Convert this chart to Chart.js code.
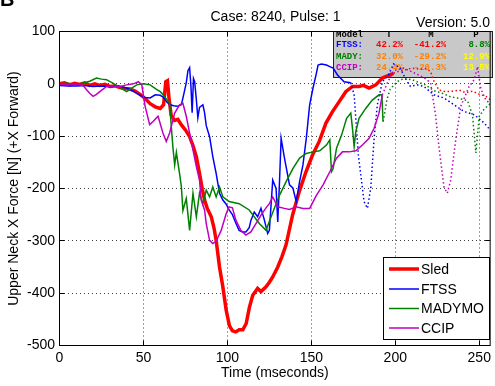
<!DOCTYPE html>
<html>
<head>
<meta charset="utf-8">
<script src="https://cdn.jsdelivr.net/npm/chart.js@4"></script>
<style>
html, body { margin: 0; padding: 0; background: #fff; }
</style>
</head>
<body>
<canvas id="chart" width="495" height="386"></canvas>
<script>
// series values (time in ms, force in N)
const sledTime = [0,3,6,9,12,15,18,21,24,27,30,33,36,39,42,45,48,51,54,57,60,62,63.3,64.3,65.3,66.5,68.5,70.5,72.5,75,77.5,79.5,81.5,83.4,85,86.4,88,90.4,92,93.3,95.3,97.3,99.3,101.2,103,105,107,109.2,111.2,113.1,115.1,118,120,123,125,127,130,132.5,134.9,138.8,142.8,146.8,150.7,154.7,158.7,162.6,166.6,170.5,174.5,178.4,181,184.4,188.4,192.3,196,199,202,206,210,214,218,221,223,226,230,234,238,242,246,250,254,256.5];
const sledForce = [0,2,-2,1,-1,2,-3,0,-3,-1,-5,-4,-7,-9,-10,-14,-20,-28,-38,-44,-47,-40,4,6,-30,-60,-70,-68,-78,-88,-101,-118,-139,-171,-200,-222,-238,-254,-275,-299,-350,-388,-433,-462,-472,-474,-470,-470,-458,-427,-404,-391,-397,-388,-379,-369,-350,-330,-308,-251,-206,-168,-136,-110,-75,-53,-34,-15,-5,-5,-3,-8,-2,11,16,20,24,27,30,28,29,24,5,-12,-15,-14,-12,-17,-14,-20,-24,-30];

const ftssTime = [0,5,10,15,20,25,30,35,40,44,48,51,54,57,60,62,64,66,68,70,72.6,74,75.5,76.5,77.5,78.3,79,79.8,80.5,81.5,82.4,83.4,85.4,86.4,87.4,89.4,91.3,93.3,95.3,97.3,99.3,101,103,105,107,109,111,113,114,116,118,120,122,124,125,127,129,130,131,132,134,137,139,141,143,145,147,149,151,153,154,156,159,161,163,165.6,169.5,173.5,175.5,178,181.4,183.4,185.4,187.4,189.3,192.3,196,199,203,206,209,213,217,223,229,235,241,247,253,256.5];
const ftssForce = [-3,-4,-4,-3,-5,-4,-5,-4,-8,-14,-22,-26,-27,-21,-22,-26,-35,-40,-42,-43,-40,-20,2,25,31,-5,-55,10,4,-30,-65,-45,-40,-55,-80,-101,-139,-171,-209,-222,-230,-241,-250,-266,-280,-283,-283,-275,-261,-245,-254,-238,-260,-286,-280,-184,-200,-264,-190,-104,-142,-193,-199,-225,-187,-155,-104,-40,-8,20,36,38,36,33,30,17,4,2,-21,-136,-225,-238,-199,-104,-40,4,17,38,30,10,-5,-2,-5,-21,-27,-40,-53,-59,-75,-88];

const madyTime = [0,5,10,15,18,22,25,28,32,35,38,40,43,46,50,54,58,60,62,64,65.6,66.6,67.6,68.6,69.6,70.5,71.5,72.6,73.5,75.5,77.5,79.5,81.5,83.4,85.4,87.4,89.4,91.3,93.3,95.3,97.3,101,107,113,119,123,127,131,135,139,143,147,151,155,159,161,162,163,165,168,171,173.5,174.5,175.5,176.5,178.4,182.4,186.3,190.3,192,192.7,193.5,195,197,201,205,210,213,218,223,228,233,238,243,246,248,250,253,256.5];
const madyForce = [0,1,-1,2,5,11,9,8,1,-5,-11,-15,-8,-2,0,-2,-11,-15,-22,-31,-37,-82,-123,-155,-131,-150,-171,-197,-242,-219,-280,-209,-254,-209,-229,-203,-216,-197,-216,-197,-216,-225,-229,-241,-267,-280,-246,-213,-187,-162,-142,-133,-130,-128,-117,-107,-168,-162,-123,-98,-66,-56,-85,-120,-91,-66,-47,-31,-21,-21,-72,-60,-30,-10,4,10,8,4,-2,-13,-18,-25,-28,-32,-60,-132,-62,-48,-38];

const ccipTime = [0,5,10,14,16,18,20,22,24,28,32,36,40,44,47,49,51,52,53.7,55.7,58.7,61.6,63.6,65.6,68.6,71.5,73.5,75.5,77.5,79.5,81.5,83.4,84.4,86.4,87.4,89.4,91.3,93.3,96.3,99.3,101,103,105,108,111,114,117,120,123,125,127,130,134,137,141,145,149,153,157,161,165,168.5,172.5,176.5,180.4,184.4,187.4,190.3,192.3,195,199,205,212,218,221,224,226,229,231,233,236,239,244,247,249,251,254,256.5];
const ccipForce = [-1,-2,-1,-3,-11,-18,-24,-20,-15,-5,-4,-5,-2,0,4,-2,-43,-56,-78,-72,-62,-94,-110,-94,-56,-40,-37,-62,-94,-126,-158,-184,-222,-241,-267,-299,-305,-301,-280,-248,-235,-237,-260,-280,-289,-283,-267,-251,-237,-229,-216,-235,-238,-240,-235,-238,-238,-213,-193,-168,-142,-130,-130,-128,-117,-104,-85,-56,-21,0,25,30,20,10,2,-60,-120,-197,-209,-184,-107,-43,-5,8,33,-10,-31,-38];

// after these times the traces are drawn dotted
const sledCut = 199, ftssCut = 173.5, madyCut = 192.7, ccipCut = 192.3;

const timeTicks = [0, 50, 100, 150, 200, 250];
const forceTicks = [100, 0, -100, -200, -300, -400, -500];

// error table
const tableModels = ['FTSS:', 'MADY:', 'CCIP:'];
const tableT = ['42.2%', '32.0%', '24.4%'];
const tableM = ['-41.2%', '-29.2%', '-20.3%'];
const tableP = ['8.8%', '12.9%', '13.5%'];

const FONT = '"Liberation Sans", Arial, sans-serif';
const MONO = '"Liberation Mono", "Courier New", monospace';

function pts(ts, vs) {
    return ts.map((t, i) => ({ x: t, y: vs[i] }));
}

function trace(label, ts, vs, color, width, cut, order) {
    return {
        label: label,
        data: pts(ts, vs),
        borderColor: color,
        borderWidth: width,
        pointRadius: 0,
        tension: 0,
        order: order,
        segment: {
            borderDash: c => c.p0.parsed.x >= cut ? [1.5, 2.5] : undefined,
            borderWidth: c => c.p0.parsed.x >= cut ? 1.5 : undefined
        }
    };
}

const extras = {
    id: 'extras',
    beforeDatasetsDraw(chart) {
        const ctx = chart.ctx;
        const a = chart.chartArea;
        const xs = chart.scales.x, ys = chart.scales.y;
        ctx.save();
        // inward ticks (the table covers the ones under it)
        ctx.strokeStyle = '#000';
        ctx.lineWidth = 1;
        ctx.beginPath();
        timeTicks.forEach(v => {
            const p = Math.floor(xs.getPixelForValue(v)) + 0.5;
            ctx.moveTo(p, a.bottom); ctx.lineTo(p, a.bottom - 5);
            ctx.moveTo(p, a.top); ctx.lineTo(p, a.top + 5);
        });
        forceTicks.forEach(v => {
            const p = Math.floor(ys.getPixelForValue(v)) + 0.5;
            ctx.moveTo(a.left, p); ctx.lineTo(a.left + 5, p);
            ctx.moveTo(a.right, p); ctx.lineTo(a.right - 5, p);
        });
        ctx.stroke();

        // error table
        ctx.fillStyle = '#c8c8c8';
        ctx.fillRect(333, 31, 160, 47);
        ctx.strokeStyle = '#222';
        ctx.strokeRect(333.5, 31.5, 159, 46);
        ctx.font = 'bold 9px ' + MONO;
        ctx.textBaseline = 'middle';
        ctx.fillStyle = '#000';
        ctx.textAlign = 'left';
        ctx.fillText('Model', 336, 35);
        ctx.textAlign = 'center';
        ctx.fillText('T', 389, 35);
        ctx.fillText('M', 431, 35);
        ctx.fillText('P', 476, 35);
        const labelCols = ['#0000ff', '#008000', '#bf00bf'];
        const tCols = ['#ff0000', '#ff8000', '#ff8000'];
        const mCols = ['#ff0000', '#ff8000', '#ff8000'];
        const pCols = ['#008000', '#ffff00', '#ffff00'];
        const rows = [45, 56.5, 68];
        for (let i = 0; i < tableModels.length; i++) {
            ctx.textAlign = 'left';
            ctx.fillStyle = labelCols[i];
            ctx.fillText(tableModels[i], 336, rows[i]);
            ctx.textAlign = 'center';
            ctx.fillStyle = tCols[i];
            ctx.fillText(tableT[i], 389.5, rows[i]);
            ctx.fillStyle = mCols[i];
            ctx.fillText(tableM[i], 430, rows[i]);
            ctx.textAlign = 'right';
            ctx.fillStyle = pCols[i];
            ctx.fillText(tableP[i], 490, rows[i]);
        }
        ctx.restore();
    },
    afterDatasetsDraw(chart) {
        const ctx = chart.ctx;
        const a = chart.chartArea;
        ctx.save();
        ctx.strokeStyle = '#000';
        ctx.lineWidth = 1;
        ctx.strokeRect(a.left, a.top, a.right - a.left, a.bottom - a.top);

        // legend box
        ctx.fillStyle = '#fff';
        ctx.fillRect(383.5, 257.5, 106, 82);
        ctx.strokeRect(383.5, 257.5, 106, 82);
        ctx.font = '14px ' + FONT;
        ctx.textBaseline = 'middle';
        ctx.textAlign = 'left';
        const ly = [269, 289, 308.5, 328];
        chart.data.datasets.forEach((ds, i) => {
            ctx.strokeStyle = ds.borderColor;
            ctx.lineWidth = ds.borderWidth;
            ctx.beginPath();
            ctx.moveTo(389, ly[i]);
            ctx.lineTo(419, ly[i]);
            ctx.stroke();
            ctx.fillStyle = '#000';
            ctx.fillText(ds.label, 421, ly[i] + 1);
        });
        ctx.restore();
    },
    afterDraw(chart) {
        const ctx = chart.ctx;
        ctx.save();
        ctx.fillStyle = '#000';
        ctx.font = '14px ' + FONT;
        ctx.textAlign = 'center';
        ctx.textBaseline = 'middle';
        ctx.fillText('Case: 8240, Pulse: 1', 275.5, 17);
        ctx.textAlign = 'right';
        ctx.textBaseline = 'alphabetic';
        ctx.fillText('Version: 5.0', 490, 27);
        ctx.font = 'bold 20px ' + FONT;
        ctx.textAlign = 'left';
        ctx.fillText('B', 0, 6);
        ctx.restore();
    }
};

const chart = new Chart(document.getElementById('chart').getContext('2d'), {
    type: 'line',
    data: {
        datasets: [
            trace('Sled', sledTime, sledForce, '#ff0000', 3.5, sledCut, 4),
            trace('FTSS', ftssTime, ftssForce, '#0000ff', 1.5, ftssCut, 3),
            trace('MADYMO', madyTime, madyForce, '#008000', 1.5, madyCut, 2),
            trace('CCIP', ccipTime, ccipForce, '#bf00bf', 1.5, ccipCut, 1)
        ]
    },
    options: {
        responsive: false,
        devicePixelRatio: 1,
        animation: false,
        layout: {
            padding: { top: 31.5, right: 3.5, left: 0, bottom: 0 }
        },
        plugins: {
            legend: { display: false },
            tooltip: { enabled: false },
            title: { display: false }
        },
        scales: {
            x: {
                type: 'linear',
                min: 0,
                max: 256.5,
                afterBuildTicks: s => { s.ticks = timeTicks.map(v => ({ value: v })); },
                afterFit: s => { s.height = 40.5; },
                grid: { color: 'rgba(0,0,0,0.75)', drawTicks: false },
                border: { display: false, dash: [1, 3] },
                ticks: { color: '#000', font: { family: FONT, size: 14 }, padding: 4, maxRotation: 0 },
                title: { display: true, text: 'Time (mseconds)', color: '#000', font: { family: FONT, size: 14 }, padding: { top: 0, bottom: 4.6 } }
            },
            y: {
                type: 'linear',
                min: -500,
                max: 100,
                afterBuildTicks: s => { s.ticks = forceTicks.map(v => ({ value: v })); },
                afterFit: s => { s.width = 59.5; },
                grid: { color: 'rgba(0,0,0,0.75)', drawTicks: false },
                border: { display: false, dash: [1, 3] },
                ticks: { color: '#000', font: { family: FONT, size: 14 }, padding: 4.5 },
                title: { display: true, text: 'Upper Neck X Force [N] (+X Forward)', color: '#000', font: { family: FONT, size: 14 }, padding: { top: 5.6, bottom: 0 } }
            }
        }
    },
    plugins: [extras]
});
</script>
</body>
</html>
